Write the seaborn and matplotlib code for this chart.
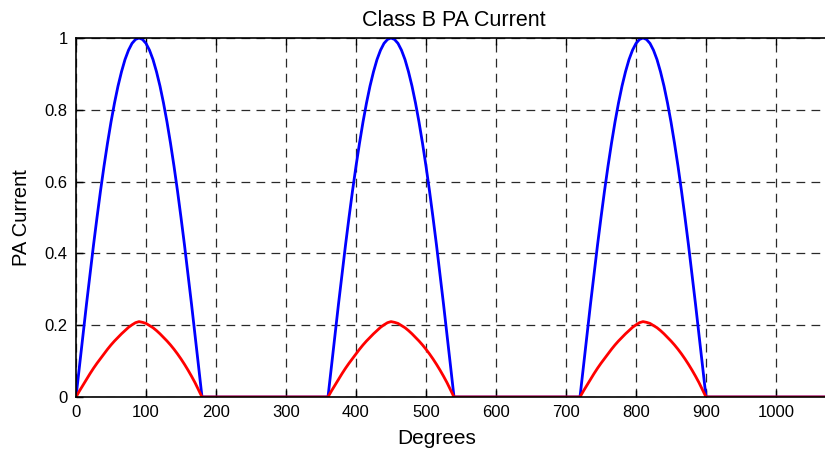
import numpy as np
import pandas as pd
import matplotlib
matplotlib.use("Agg")
import matplotlib.pyplot as plt
import seaborn as sns

hump_deg = [0, 5, 10, 15, 20, 25, 30, 35, 40, 45, 50, 55, 60, 65, 70, 75, 80, 85, 90,
            95, 100, 105, 110, 115, 120, 125, 130, 135, 140, 145, 150, 155, 160, 165, 170, 175, 180]
blue_hump = [0, 0.087, 0.174, 0.259, 0.342, 0.423, 0.50, 0.574, 0.643, 0.707, 0.766, 0.819,
             0.866, 0.906, 0.940, 0.966, 0.985, 0.996, 1.0,
             0.996, 0.985, 0.966, 0.940, 0.906, 0.866, 0.819, 0.766, 0.707, 0.643, 0.574,
             0.50, 0.423, 0.342, 0.259, 0.174, 0.087, 0]
red_hump = [0, 0.017, 0.033, 0.049, 0.065, 0.080, 0.094, 0.107, 0.12, 0.133, 0.145, 0.156,
            0.166, 0.176, 0.185, 0.194, 0.201, 0.207, 0.21,
            0.208, 0.205, 0.199, 0.193, 0.185, 0.176, 0.166, 0.156, 0.145, 0.133, 0.12,
            0.106, 0.091, 0.075, 0.058, 0.04, 0.02, 0]
off_deg = [190, 200, 210, 220, 230, 240, 250, 260, 270, 280, 290, 300, 310, 320, 330, 340, 350]
cycle_starts = [0, 360, 720]
x_end = 1080

xticks = [0, 100, 200, 300, 400, 500, 600, 700, 800, 900, 1000]
yticks = [0, 0.2, 0.4, 0.6, 0.8, 1]

rows = []
for c in cycle_starts:
    for d, b, r in zip(hump_deg, blue_hump, red_hump):
        rows.append((c + d, b, r))
    for d in off_deg:
        rows.append((c + d, 0.0, 0.0))
rows.append((x_end, 0.0, 0.0))
df = pd.DataFrame(rows, columns=["deg", "blue", "red"])
long = df.melt(id_vars="deg", var_name="series", value_name="current")

sns.set_style("ticks")
plt.rcParams["font.family"] = ["Liberation Sans", "DejaVu Sans"]
plt.rcParams["text.color"] = "black"
plt.rcParams["axes.labelcolor"] = "black"

fig = plt.figure(figsize=(8.25, 4.49), dpi=100)
ax = fig.add_axes([76 / 825, 52 / 449, 756 / 825, 359 / 449])

sns.lineplot(data=long, x="deg", y="current", hue="series",
             palette={"blue": "#0000ff", "red": "#ff0000"},
             linewidth=2.0, legend=False, ax=ax, estimator=None, sort=False)

ax.set_xlim(0, x_end)
ax.set_ylim(0, 1)
ax.set_xticks(xticks)
ax.set_yticks(yticks)
ax.set_yticklabels(["0", "0.2", "0.4", "0.6", "0.8", "1"])
ax.grid(True, color="#2a2a2a", linestyle=(0, (7, 5)), linewidth=0.9)
ax.tick_params(direction="in", length=5, labelsize=12, top=True, right=True,
               colors="black", width=1, pad=6)
for s in ax.spines.values():
    s.set_color("black")
    s.set_linewidth(1.2)

ax.set_title("Class B PA Current", fontsize=15.5, pad=9, color="black")
ax.set_xlabel("Degrees", fontsize=15, color="black")
ax.set_ylabel("PA Current", fontsize=14.5, color="black")
ax.xaxis.set_label_coords(361 / 756, -0.09)
ax.yaxis.set_label_coords(-45 / 756, 0.5)

fig.savefig("out.png", dpi=100)
